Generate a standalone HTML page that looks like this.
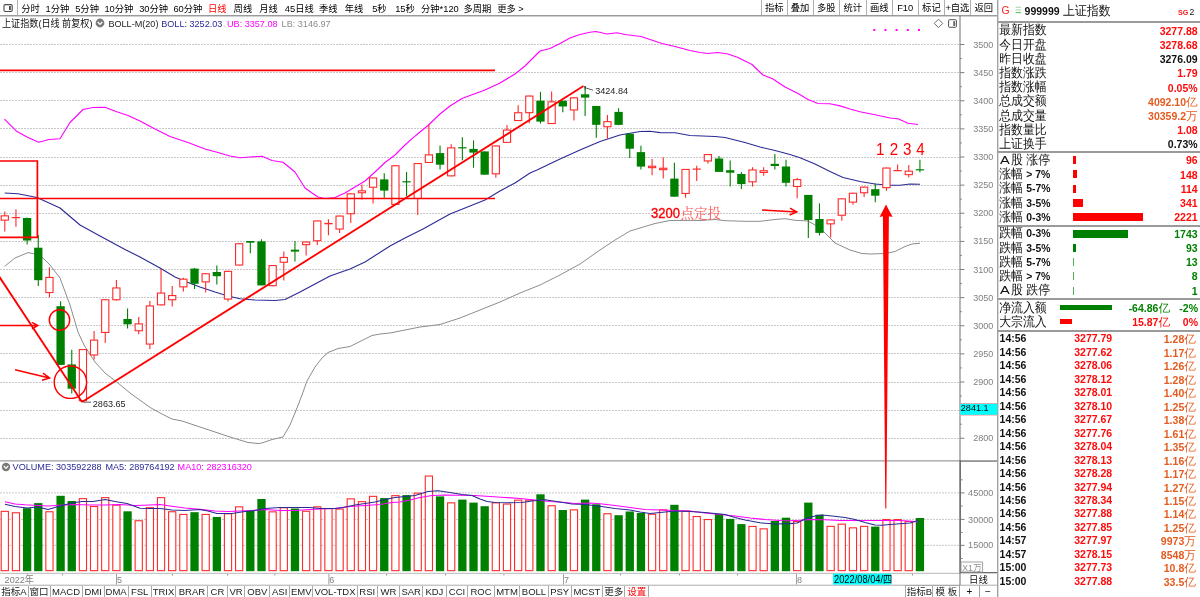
<!DOCTYPE html>
<html lang="zh-CN"><head><meta charset="utf-8"><title>上证指数 日线 BOLL</title>
<style>
html,body{margin:0;padding:0;background:#fff;}
body{width:1200px;height:597px;overflow:hidden;position:relative;font-family:"Liberation Sans","Noto Sans CJK SC",sans-serif;color:#000;}
.ar{font-family:"Liberation Sans","Noto Sans CJK SC",sans-serif;}
.ss{font-family:"Liberation Serif","Noto Serif CJK SC",serif;}
#app{position:absolute;left:0;top:0;width:1200px;height:597px;overflow:hidden;will-change:transform;}
.abs{position:absolute;white-space:nowrap;}
/* toolbar */
#tb{position:absolute;left:0;top:0;width:997px;height:15.2px;}
#tb span{position:absolute;top:3.4px;font-size:9.3px;line-height:12px;white-space:nowrap;color:#000;}
#tb i{position:absolute;top:0;width:1px;height:15px;background:#b0b0b0;}
#tb b{position:absolute;top:2.4px;font-weight:normal;font-size:9.3px;line-height:12px;text-align:center;white-space:nowrap;color:#000;}
/* title rows */
.t9{font-size:9.1px;line-height:12px;transform:scaleY(1.08);transform-origin:0 50%;}
/* bottom tabs */
#tabs span{position:absolute;top:585.6px;height:11.4px;font-size:9.5px;line-height:11.6px;text-align:center;white-space:nowrap;color:#222;border-left:1px solid #a8a8a8;box-sizing:border-box;}
/* right panel */
#rp{position:absolute;left:997px;top:0;width:203px;height:597px;border-left:1.4px solid transparent;box-sizing:border-box;}
#rp .lab{position:absolute;left:1.2px;font-family:"Liberation Sans","WenQuanYi Zen Hei",sans-serif;font-size:11.9px;line-height:14px;color:#111;white-space:nowrap;transform:scaleY(1.1);transform-origin:0 50%;}
#rp .lab b{font-family:"Liberation Sans","Noto Sans CJK SC",sans-serif;font-size:10.4px;font-weight:bold;}
#rp .val{position:absolute;right:2.4px;font-size:10.5px;line-height:14px;font-weight:bold;white-space:nowrap;text-align:right;}
#rp .hr{position:absolute;left:0;width:203px;height:1.4px;background:#9a9a9a;}
#rp .bar{position:absolute;height:8px;}
.r{color:#ff0a0a;} .g{color:#008000;} .o{color:#e65a1e;} .k{color:#111;}
#rp .tk{position:absolute;left:0;width:201px;height:13.5px;font-size:10.5px;line-height:13.5px;font-weight:bold;}
#rp .tk span{position:absolute;top:0;white-space:nowrap;}
#rp .tk span em{font-style:normal;}
.cj{font-family:"Liberation Sans","WenQuanYi Zen Hei",sans-serif;font-weight:normal;font-size:11.6px;}
#rp .fa{display:inline-block;width:11.9px;text-align:center;font-style:normal;font-size:10.6px;transform:scaleX(1.38);}
.wq{font-family:"Liberation Sans","WenQuanYi Zen Hei",sans-serif;}
</style></head><body><div id="app">
<svg width="1000" height="597" viewBox="0 0 1000 597" style="position:absolute;left:0;top:0">
<line x1="0" y1="438.5" x2="959" y2="438.5" stroke="#c8c8c8" stroke-width="1" stroke-dasharray="2 1"/>
<line x1="0" y1="410.5" x2="959" y2="410.5" stroke="#c8c8c8" stroke-width="1" stroke-dasharray="2 1"/>
<line x1="0" y1="382.5" x2="959" y2="382.5" stroke="#c8c8c8" stroke-width="1" stroke-dasharray="2 1"/>
<line x1="0" y1="353.5" x2="959" y2="353.5" stroke="#c8c8c8" stroke-width="1" stroke-dasharray="2 1"/>
<line x1="0" y1="325.5" x2="959" y2="325.5" stroke="#c8c8c8" stroke-width="1" stroke-dasharray="2 1"/>
<line x1="0" y1="297.5" x2="959" y2="297.5" stroke="#c8c8c8" stroke-width="1" stroke-dasharray="2 1"/>
<line x1="0" y1="269.5" x2="959" y2="269.5" stroke="#c8c8c8" stroke-width="1" stroke-dasharray="2 1"/>
<line x1="0" y1="241.5" x2="959" y2="241.5" stroke="#c8c8c8" stroke-width="1" stroke-dasharray="2 1"/>
<line x1="0" y1="213.5" x2="959" y2="213.5" stroke="#c8c8c8" stroke-width="1" stroke-dasharray="2 1"/>
<line x1="0" y1="185.5" x2="959" y2="185.5" stroke="#c8c8c8" stroke-width="1" stroke-dasharray="2 1"/>
<line x1="0" y1="157.5" x2="959" y2="157.5" stroke="#c8c8c8" stroke-width="1" stroke-dasharray="2 1"/>
<line x1="0" y1="128.5" x2="959" y2="128.5" stroke="#c8c8c8" stroke-width="1" stroke-dasharray="2 1"/>
<line x1="0" y1="100.5" x2="959" y2="100.5" stroke="#c8c8c8" stroke-width="1" stroke-dasharray="2 1"/>
<line x1="0" y1="72.5" x2="959" y2="72.5" stroke="#c8c8c8" stroke-width="1" stroke-dasharray="2 1"/>
<line x1="0" y1="44.5" x2="959" y2="44.5" stroke="#c8c8c8" stroke-width="1" stroke-dasharray="2 1"/>
<line x1="0" y1="492.9" x2="959" y2="492.9" stroke="#c8c8c8" stroke-width="1" stroke-dasharray="2 1"/>
<line x1="0" y1="519.4" x2="959" y2="519.4" stroke="#c8c8c8" stroke-width="1" stroke-dasharray="2 1"/>
<line x1="0" y1="545.35" x2="959" y2="545.35" stroke="#c8c8c8" stroke-width="1" stroke-dasharray="2 1"/>
<rect x="0" y="15" width="997" height="1.45" fill="#9a9a9a"/>
<rect x="997" y="0" width="1.4" height="597" fill="#a2a2a2"/>
<rect x="0" y="460" width="960" height="1.6" fill="#b4b4b4"/>
<rect x="0" y="572.8" width="960" height="1.2" fill="#c4c4c4"/>
<rect x="0" y="584.7" width="997" height="1" fill="#ababab"/>
<polyline fill="none" stroke="#8c8c8c" stroke-width="1" stroke-linejoin="round" points="4.7,266.3 15,258 28,252.6 40,255 50,265 60,278 70,305 78,332 84,345 95,362 105,373 118,383 130,393 150,407.4 160,413 172,419 182,421 200,427 215,432 230,437 248,442.5 258,443.5 262,443 272,439.5 283,437 290,425 297,408 302,395 307,381 315,367 322,358 328,352.5 338,348.5 350,346.5 360,341.5 372,335.5 380,334 390,333 400,331 420,327 440,324.5 460,318 480,310 500,302 520,293 540,285 560,275 580,264 600,250 615,240 630,231 640,228 655,223.5 670,220.5 690,220.4 700,220.5 715,219.5 725,220.7 745,221.3 760,221.3 775,219.5 785,218.7 795,220.3 808,221 815,225 822,230 835,243 850,250 862,253.5 870,254 885,253.5 895,251.5 905,246.5 912,244 920,243.2" />
<polyline fill="none" stroke="#2a2a96" stroke-width="1.1" stroke-linejoin="round" points="4.7,193 18,193.7 37,197.5 60,208 80,225 100,236 125,249.5 140,257 160,268 175,277 190,283.2 200,287 215,292 228,296 240,298.8 255,300 275,300.5 285,299.5 300,292 315,284 330,276 350,269 365,262 390,246 405,238 423,229 450,214 470,206 485,200 500,191 515,183 530,173 537,170 560,159 580,150 600,141.5 620,135 640,131.5 650,131.3 660,132.6 675,132.8 690,135.5 715,136.5 725,137.5 745,142.5 760,147 775,150.5 790,154.5 800,157.7 815,164 830,171.5 843,177.5 860,181.5 875,184 890,185.2 900,185.2 910,184 920,184.2" />
<polyline fill="none" stroke="#ff00ff" stroke-width="1.1" stroke-linejoin="round" points="4.4,119.1 16.5,131.2 27,137 38.6,142.3 49,139.5 60,138.8 70,122.5 83,109.5 93,107.5 105,107.3 116,111.5 128,115.5 140,121 155,129 170,136.5 185,141.5 190,143.2 205,149 218,152.5 230,156 240,157.7 250,157 262,156.3 272,160.5 283,162.3 295,172 305,188 312,193 318,197 325,198.5 335,197.5 345,193 355,187 365,181 375,172 385,162.5 395,155 405,145 412,138.6 420,132 428,125.5 440,114 450,106 462,98.5 470,95.5 485,90 500,83 515,74 525,66 540,51 550,48.5 560,43.5 570,38 580,34.5 590,32.3 596,31.5 607,34 617,32.7 625,34.5 641,36.5 650,39.5 662,43.5 675,46.5 690,50.5 700,52.5 708,53.5 718,52.5 728,54 738,57.5 752,64.5 763,75 773,79 785,87 798,93.5 808,99.5 818,103.5 830,103.7 840,105.9 850,109 860,111.8 875,114.7 890,118 898,118.7 908,123.3 918,124.5" />
<line x1="4.8" y1="211.6" x2="4.8" y2="231.6" stroke="#ff2a2a" stroke-width="1.1"/>
<rect x="1.2" y="215.85" width="7.2" height="4.3" fill="#fff" stroke="#ff2a2a" stroke-width="1.1"/>
<line x1="15.96" y1="209.3" x2="15.96" y2="226.7" stroke="#ff2a2a" stroke-width="1.1"/>
<rect x="11.81" y="217" width="8.3" height="1.2" fill="#ff2a2a"/>
<line x1="27.12" y1="217.5" x2="27.12" y2="244.6" stroke="#008000" stroke-width="1.1"/>
<rect x="22.97" y="218" width="8.3" height="22.5" fill="#008000"/>
<line x1="38.28" y1="235" x2="38.28" y2="286.1" stroke="#008000" stroke-width="1.1"/>
<rect x="34.13" y="247.7" width="8.3" height="32.5" fill="#008000"/>
<line x1="49.44" y1="267.2" x2="49.44" y2="297.3" stroke="#ff2a2a" stroke-width="1.1"/>
<rect x="45.84" y="277.45" width="7.2" height="15.1" fill="#fff" stroke="#ff2a2a" stroke-width="1.1"/>
<line x1="60.6" y1="301.2" x2="60.6" y2="364.9" stroke="#008000" stroke-width="1.1"/>
<rect x="56.45" y="306.2" width="8.3" height="58.7" fill="#008000"/>
<line x1="71.76" y1="349.8" x2="71.76" y2="393.4" stroke="#008000" stroke-width="1.1"/>
<rect x="67.61" y="364.4" width="8.3" height="24.3" fill="#008000"/>
<line x1="82.92" y1="349" x2="82.92" y2="401.2" stroke="#ff2a2a" stroke-width="1.1"/>
<rect x="79.32" y="349.55" width="7.2" height="51.1" fill="#fff" stroke="#ff2a2a" stroke-width="1.1"/>
<line x1="94.08" y1="330.9" x2="94.08" y2="359.4" stroke="#ff2a2a" stroke-width="1.1"/>
<rect x="90.48" y="340.15" width="7.2" height="14.8" fill="#fff" stroke="#ff2a2a" stroke-width="1.1"/>
<line x1="105.24" y1="299.2" x2="105.24" y2="343" stroke="#ff2a2a" stroke-width="1.1"/>
<rect x="101.64" y="299.75" width="7.2" height="32.7" fill="#fff" stroke="#ff2a2a" stroke-width="1.1"/>
<line x1="116.4" y1="279.9" x2="116.4" y2="300.8" stroke="#ff2a2a" stroke-width="1.1"/>
<rect x="112.8" y="287.95" width="7.2" height="11.8" fill="#fff" stroke="#ff2a2a" stroke-width="1.1"/>
<line x1="127.56" y1="308.4" x2="127.56" y2="328.5" stroke="#008000" stroke-width="1.1"/>
<rect x="123.41" y="319" width="8.3" height="5.3" fill="#008000"/>
<line x1="138.72" y1="317" x2="138.72" y2="334.2" stroke="#ff2a2a" stroke-width="1.1"/>
<rect x="135.12" y="323.85" width="7.2" height="6.9" fill="#fff" stroke="#ff2a2a" stroke-width="1.1"/>
<line x1="149.88" y1="301" x2="149.88" y2="349.3" stroke="#ff2a2a" stroke-width="1.1"/>
<rect x="146.28" y="305.95" width="7.2" height="38.1" fill="#fff" stroke="#ff2a2a" stroke-width="1.1"/>
<line x1="161.04" y1="269" x2="161.04" y2="305.4" stroke="#ff2a2a" stroke-width="1.1"/>
<rect x="157.44" y="293.05" width="7.2" height="11.8" fill="#fff" stroke="#ff2a2a" stroke-width="1.1"/>
<line x1="172.2" y1="286" x2="172.2" y2="306.5" stroke="#ff2a2a" stroke-width="1.1"/>
<rect x="168.6" y="295.55" width="7.2" height="4.2" fill="#fff" stroke="#ff2a2a" stroke-width="1.1"/>
<line x1="183.36" y1="277.7" x2="183.36" y2="291.6" stroke="#ff2a2a" stroke-width="1.1"/>
<rect x="179.76" y="279.15" width="7.2" height="7.7" fill="#fff" stroke="#ff2a2a" stroke-width="1.1"/>
<line x1="194.52" y1="268" x2="194.52" y2="289" stroke="#008000" stroke-width="1.1"/>
<rect x="190.37" y="268.6" width="8.3" height="15.2" fill="#008000"/>
<line x1="205.68" y1="273.2" x2="205.68" y2="292.6" stroke="#ff2a2a" stroke-width="1.1"/>
<rect x="202.08" y="273.75" width="7.2" height="8.1" fill="#fff" stroke="#ff2a2a" stroke-width="1.1"/>
<line x1="216.84" y1="265.6" x2="216.84" y2="284.6" stroke="#008000" stroke-width="1.1"/>
<rect x="212.69" y="272" width="8.3" height="4.2" fill="#008000"/>
<line x1="228" y1="270.8" x2="228" y2="301.6" stroke="#ff2a2a" stroke-width="1.1"/>
<rect x="224.4" y="271.35" width="7.2" height="27.7" fill="#fff" stroke="#ff2a2a" stroke-width="1.1"/>
<line x1="239.16" y1="243.2" x2="239.16" y2="265.6" stroke="#ff2a2a" stroke-width="1.1"/>
<rect x="235.56" y="243.75" width="7.2" height="21.3" fill="#fff" stroke="#ff2a2a" stroke-width="1.1"/>
<line x1="250.32" y1="241" x2="250.32" y2="253.2" stroke="#008000" stroke-width="1.1"/>
<rect x="246.17" y="241" width="8.3" height="1.7" fill="#008000"/>
<line x1="261.48" y1="239.3" x2="261.48" y2="285.4" stroke="#008000" stroke-width="1.1"/>
<rect x="257.33" y="241.3" width="8.3" height="44.1" fill="#008000"/>
<line x1="272.64" y1="265" x2="272.64" y2="286.2" stroke="#ff2a2a" stroke-width="1.1"/>
<rect x="269.04" y="265.55" width="7.2" height="20.1" fill="#fff" stroke="#ff2a2a" stroke-width="1.1"/>
<line x1="283.8" y1="251.4" x2="283.8" y2="280.4" stroke="#ff2a2a" stroke-width="1.1"/>
<rect x="280.2" y="257.45" width="7.2" height="4.8" fill="#fff" stroke="#ff2a2a" stroke-width="1.1"/>
<line x1="294.96" y1="241" x2="294.96" y2="261.4" stroke="#008000" stroke-width="1.1"/>
<rect x="290.81" y="249.7" width="8.3" height="1.9" fill="#008000"/>
<line x1="306.12" y1="241.5" x2="306.12" y2="255.6" stroke="#ff2a2a" stroke-width="1.1"/>
<rect x="302.52" y="242.05" width="7.2" height="2.6" fill="#fff" stroke="#ff2a2a" stroke-width="1.1"/>
<line x1="317.28" y1="220.4" x2="317.28" y2="244.9" stroke="#ff2a2a" stroke-width="1.1"/>
<rect x="313.68" y="220.95" width="7.2" height="19.8" fill="#fff" stroke="#ff2a2a" stroke-width="1.1"/>
<line x1="328.44" y1="219.2" x2="328.44" y2="235.2" stroke="#ff2a2a" stroke-width="1.1"/>
<rect x="324.29" y="222.9" width="8.3" height="1.4" fill="#ff2a2a"/>
<line x1="339.6" y1="215.5" x2="339.6" y2="233" stroke="#ff2a2a" stroke-width="1.1"/>
<rect x="336" y="216.05" width="7.2" height="13" fill="#fff" stroke="#ff2a2a" stroke-width="1.1"/>
<line x1="350.76" y1="193.3" x2="350.76" y2="223" stroke="#ff2a2a" stroke-width="1.1"/>
<rect x="347.16" y="193.85" width="7.2" height="19.9" fill="#fff" stroke="#ff2a2a" stroke-width="1.1"/>
<line x1="361.92" y1="184.4" x2="361.92" y2="199.5" stroke="#ff2a2a" stroke-width="1.1"/>
<rect x="358.32" y="190.85" width="7.2" height="1.9" fill="#fff" stroke="#ff2a2a" stroke-width="1.1"/>
<line x1="373.08" y1="177.4" x2="373.08" y2="203.4" stroke="#ff2a2a" stroke-width="1.1"/>
<rect x="369.48" y="177.95" width="7.2" height="9.3" fill="#fff" stroke="#ff2a2a" stroke-width="1.1"/>
<line x1="384.24" y1="173.2" x2="384.24" y2="197.8" stroke="#008000" stroke-width="1.1"/>
<rect x="380.09" y="179.4" width="8.3" height="11.2" fill="#008000"/>
<line x1="395.4" y1="165.2" x2="395.4" y2="204.9" stroke="#ff2a2a" stroke-width="1.1"/>
<rect x="391.8" y="165.75" width="7.2" height="38.6" fill="#fff" stroke="#ff2a2a" stroke-width="1.1"/>
<line x1="406.56" y1="171.9" x2="406.56" y2="196.2" stroke="#008000" stroke-width="1.1"/>
<rect x="402.41" y="181.2" width="8.3" height="1.2" fill="#008000"/>
<line x1="417.72" y1="163" x2="417.72" y2="215.1" stroke="#ff2a2a" stroke-width="1.1"/>
<rect x="414.12" y="163.55" width="7.2" height="34.9" fill="#fff" stroke="#ff2a2a" stroke-width="1.1"/>
<line x1="428.88" y1="124.5" x2="428.88" y2="163" stroke="#ff2a2a" stroke-width="1.1"/>
<rect x="425.28" y="154.85" width="7.2" height="7.6" fill="#fff" stroke="#ff2a2a" stroke-width="1.1"/>
<line x1="440.04" y1="145.4" x2="440.04" y2="169.4" stroke="#008000" stroke-width="1.1"/>
<rect x="435.89" y="153.1" width="8.3" height="11.6" fill="#008000"/>
<line x1="451.2" y1="144.2" x2="451.2" y2="176.4" stroke="#ff2a2a" stroke-width="1.1"/>
<rect x="447.6" y="147.85" width="7.2" height="28" fill="#fff" stroke="#ff2a2a" stroke-width="1.1"/>
<line x1="462.36" y1="137.2" x2="462.36" y2="160.2" stroke="#008000" stroke-width="1.1"/>
<rect x="458.21" y="147.2" width="8.3" height="1.2" fill="#008000"/>
<line x1="473.52" y1="140.4" x2="473.52" y2="167.7" stroke="#008000" stroke-width="1.1"/>
<rect x="469.37" y="148.9" width="8.3" height="3.7" fill="#008000"/>
<line x1="484.68" y1="151.4" x2="484.68" y2="174.7" stroke="#008000" stroke-width="1.1"/>
<rect x="480.53" y="151.4" width="8.3" height="23.3" fill="#008000"/>
<line x1="495.84" y1="145.4" x2="495.84" y2="177.7" stroke="#ff2a2a" stroke-width="1.1"/>
<rect x="492.24" y="145.95" width="7.2" height="27.9" fill="#fff" stroke="#ff2a2a" stroke-width="1.1"/>
<line x1="507" y1="125" x2="507" y2="142.9" stroke="#ff2a2a" stroke-width="1.1"/>
<rect x="503.4" y="130.05" width="7.2" height="12.3" fill="#fff" stroke="#ff2a2a" stroke-width="1.1"/>
<line x1="518.16" y1="105.2" x2="518.16" y2="121.1" stroke="#ff2a2a" stroke-width="1.1"/>
<rect x="514.56" y="112.75" width="7.2" height="7.8" fill="#fff" stroke="#ff2a2a" stroke-width="1.1"/>
<line x1="529.32" y1="95.5" x2="529.32" y2="123.3" stroke="#ff2a2a" stroke-width="1.1"/>
<rect x="525.72" y="96.05" width="7.2" height="16.6" fill="#fff" stroke="#ff2a2a" stroke-width="1.1"/>
<line x1="540.48" y1="91.8" x2="540.48" y2="123.6" stroke="#008000" stroke-width="1.1"/>
<rect x="536.33" y="100.7" width="8.3" height="20.9" fill="#008000"/>
<line x1="551.64" y1="91.4" x2="551.64" y2="124.1" stroke="#ff2a2a" stroke-width="1.1"/>
<rect x="548.04" y="101.85" width="7.2" height="21.7" fill="#fff" stroke="#ff2a2a" stroke-width="1.1"/>
<line x1="562.8" y1="100.7" x2="562.8" y2="112.2" stroke="#008000" stroke-width="1.1"/>
<rect x="558.65" y="100.7" width="8.3" height="5.8" fill="#008000"/>
<line x1="573.96" y1="97.3" x2="573.96" y2="120.6" stroke="#ff2a2a" stroke-width="1.1"/>
<rect x="570.36" y="97.85" width="7.2" height="12.1" fill="#fff" stroke="#ff2a2a" stroke-width="1.1"/>
<line x1="585.12" y1="85.9" x2="585.12" y2="116.1" stroke="#008000" stroke-width="1.1"/>
<rect x="580.97" y="94.3" width="8.3" height="3.3" fill="#008000"/>
<line x1="596.28" y1="106" x2="596.28" y2="137.8" stroke="#008000" stroke-width="1.1"/>
<rect x="592.13" y="106" width="8.3" height="18.8" fill="#008000"/>
<line x1="607.44" y1="114.9" x2="607.44" y2="138.7" stroke="#ff2a2a" stroke-width="1.1"/>
<rect x="603.84" y="121.65" width="7.2" height="5.1" fill="#fff" stroke="#ff2a2a" stroke-width="1.1"/>
<line x1="618.6" y1="108.2" x2="618.6" y2="125.3" stroke="#008000" stroke-width="1.1"/>
<rect x="614.45" y="111.9" width="8.3" height="13" fill="#008000"/>
<line x1="629.76" y1="133.7" x2="629.76" y2="157.9" stroke="#008000" stroke-width="1.1"/>
<rect x="625.61" y="133.7" width="8.3" height="15" fill="#008000"/>
<line x1="640.92" y1="145.7" x2="640.92" y2="169.4" stroke="#008000" stroke-width="1.1"/>
<rect x="636.77" y="152.1" width="8.3" height="14.5" fill="#008000"/>
<line x1="652.08" y1="159" x2="652.08" y2="175.2" stroke="#ff2a2a" stroke-width="1.1"/>
<rect x="648.48" y="166.25" width="7.2" height="1.4" fill="#fff" stroke="#ff2a2a" stroke-width="1.1"/>
<line x1="663.24" y1="157.3" x2="663.24" y2="178.6" stroke="#ff2a2a" stroke-width="1.1"/>
<rect x="659.64" y="168.25" width="7.2" height="1.4" fill="#fff" stroke="#ff2a2a" stroke-width="1.1"/>
<line x1="674.4" y1="162.7" x2="674.4" y2="196.7" stroke="#008000" stroke-width="1.1"/>
<rect x="670.25" y="178.6" width="8.3" height="18.1" fill="#008000"/>
<line x1="685.56" y1="168.9" x2="685.56" y2="197.8" stroke="#ff2a2a" stroke-width="1.1"/>
<rect x="681.96" y="169.45" width="7.2" height="24" fill="#fff" stroke="#ff2a2a" stroke-width="1.1"/>
<line x1="696.72" y1="165.7" x2="696.72" y2="181.1" stroke="#ff2a2a" stroke-width="1.1"/>
<rect x="692.57" y="168.5" width="8.3" height="1.2" fill="#ff2a2a"/>
<line x1="707.88" y1="154" x2="707.88" y2="163.5" stroke="#ff2a2a" stroke-width="1.1"/>
<rect x="704.28" y="154.55" width="7.2" height="6.4" fill="#fff" stroke="#ff2a2a" stroke-width="1.1"/>
<line x1="719.04" y1="156" x2="719.04" y2="171.9" stroke="#008000" stroke-width="1.1"/>
<rect x="714.89" y="158.5" width="8.3" height="13.4" fill="#008000"/>
<line x1="730.2" y1="160.5" x2="730.2" y2="186.6" stroke="#008000" stroke-width="1.1"/>
<rect x="726.05" y="170.2" width="8.3" height="2.5" fill="#008000"/>
<line x1="741.36" y1="171.9" x2="741.36" y2="189" stroke="#008000" stroke-width="1.1"/>
<rect x="737.21" y="174" width="8.3" height="10.1" fill="#008000"/>
<line x1="752.52" y1="167.2" x2="752.52" y2="186.6" stroke="#ff2a2a" stroke-width="1.1"/>
<rect x="748.92" y="169.95" width="7.2" height="11.9" fill="#fff" stroke="#ff2a2a" stroke-width="1.1"/>
<line x1="763.68" y1="167.2" x2="763.68" y2="175.7" stroke="#ff2a2a" stroke-width="1.1"/>
<rect x="760.08" y="170.75" width="7.2" height="1.7" fill="#fff" stroke="#ff2a2a" stroke-width="1.1"/>
<line x1="774.84" y1="154" x2="774.84" y2="169.4" stroke="#008000" stroke-width="1.1"/>
<rect x="770.69" y="163.8" width="8.3" height="2.2" fill="#008000"/>
<line x1="786" y1="159.8" x2="786" y2="186.6" stroke="#008000" stroke-width="1.1"/>
<rect x="781.85" y="166.5" width="8.3" height="16.3" fill="#008000"/>
<line x1="797.16" y1="177.7" x2="797.16" y2="198.3" stroke="#ff2a2a" stroke-width="1.1"/>
<rect x="793.56" y="179.65" width="7.2" height="6.8" fill="#fff" stroke="#ff2a2a" stroke-width="1.1"/>
<line x1="808.32" y1="194.9" x2="808.32" y2="237.9" stroke="#008000" stroke-width="1.1"/>
<rect x="804.17" y="194.9" width="8.3" height="25.1" fill="#008000"/>
<line x1="819.48" y1="203.3" x2="819.48" y2="235.5" stroke="#008000" stroke-width="1.1"/>
<rect x="815.33" y="219" width="8.3" height="13.9" fill="#008000"/>
<line x1="830.64" y1="219.4" x2="830.64" y2="237.5" stroke="#ff2a2a" stroke-width="1.1"/>
<rect x="827.04" y="219.95" width="7.2" height="3.9" fill="#fff" stroke="#ff2a2a" stroke-width="1.1"/>
<line x1="841.8" y1="198.3" x2="841.8" y2="220.8" stroke="#ff2a2a" stroke-width="1.1"/>
<rect x="838.2" y="198.85" width="7.2" height="16.4" fill="#fff" stroke="#ff2a2a" stroke-width="1.1"/>
<line x1="852.96" y1="192.7" x2="852.96" y2="204.7" stroke="#ff2a2a" stroke-width="1.1"/>
<rect x="849.36" y="193.25" width="7.2" height="8.9" fill="#fff" stroke="#ff2a2a" stroke-width="1.1"/>
<line x1="864.12" y1="186.6" x2="864.12" y2="196.9" stroke="#ff2a2a" stroke-width="1.1"/>
<rect x="860.52" y="187.15" width="7.2" height="5.6" fill="#fff" stroke="#ff2a2a" stroke-width="1.1"/>
<line x1="875.28" y1="183.2" x2="875.28" y2="202.3" stroke="#008000" stroke-width="1.1"/>
<rect x="871.13" y="189.2" width="8.3" height="6.5" fill="#008000"/>
<line x1="886.44" y1="167.5" x2="886.44" y2="190.7" stroke="#ff2a2a" stroke-width="1.1"/>
<rect x="882.84" y="168.05" width="7.2" height="19.6" fill="#fff" stroke="#ff2a2a" stroke-width="1.1"/>
<line x1="897.6" y1="164.5" x2="897.6" y2="171.2" stroke="#ff2a2a" stroke-width="1.1"/>
<rect x="893.45" y="170" width="8.3" height="1.2" fill="#ff2a2a"/>
<line x1="908.76" y1="165.1" x2="908.76" y2="177.6" stroke="#ff2a2a" stroke-width="1.1"/>
<rect x="905.16" y="171.15" width="7.2" height="3.5" fill="#fff" stroke="#ff2a2a" stroke-width="1.1"/>
<line x1="919.92" y1="159.7" x2="919.92" y2="172.2" stroke="#008000" stroke-width="1.1"/>
<rect x="915.77" y="169.2" width="8.3" height="1.2" fill="#008000"/>
<rect x="1.2" y="511.35" width="7.2" height="59.3" fill="#fff" stroke="#ff2a2a" stroke-width="1.1"/>
<rect x="12.36" y="512.75" width="7.2" height="57.9" fill="#fff" stroke="#ff2a2a" stroke-width="1.1"/>
<rect x="22.97" y="508.2" width="8.3" height="63" fill="#008000"/>
<rect x="34.13" y="503.1" width="8.3" height="68.1" fill="#008000"/>
<rect x="45.84" y="511.75" width="7.2" height="58.9" fill="#fff" stroke="#ff2a2a" stroke-width="1.1"/>
<rect x="56.45" y="495.8" width="8.3" height="75.4" fill="#008000"/>
<rect x="67.61" y="501" width="8.3" height="70.2" fill="#008000"/>
<rect x="79.32" y="498.65" width="7.2" height="72" fill="#fff" stroke="#ff2a2a" stroke-width="1.1"/>
<rect x="90.48" y="506.55" width="7.2" height="64.1" fill="#fff" stroke="#ff2a2a" stroke-width="1.1"/>
<rect x="101.64" y="497.65" width="7.2" height="73" fill="#fff" stroke="#ff2a2a" stroke-width="1.1"/>
<rect x="112.8" y="505.15" width="7.2" height="65.5" fill="#fff" stroke="#ff2a2a" stroke-width="1.1"/>
<rect x="123.41" y="511.3" width="8.3" height="59.9" fill="#008000"/>
<rect x="135.12" y="520.75" width="7.2" height="49.9" fill="#fff" stroke="#ff2a2a" stroke-width="1.1"/>
<rect x="146.28" y="507.75" width="7.2" height="62.9" fill="#fff" stroke="#ff2a2a" stroke-width="1.1"/>
<rect x="157.44" y="497.65" width="7.2" height="73" fill="#fff" stroke="#ff2a2a" stroke-width="1.1"/>
<rect x="168.6" y="511.75" width="7.2" height="58.9" fill="#fff" stroke="#ff2a2a" stroke-width="1.1"/>
<rect x="179.76" y="514.45" width="7.2" height="56.2" fill="#fff" stroke="#ff2a2a" stroke-width="1.1"/>
<rect x="190.37" y="512.2" width="8.3" height="59" fill="#008000"/>
<rect x="202.08" y="514.45" width="7.2" height="56.2" fill="#fff" stroke="#ff2a2a" stroke-width="1.1"/>
<rect x="212.69" y="516.9" width="8.3" height="54.3" fill="#008000"/>
<rect x="224.4" y="513.75" width="7.2" height="56.9" fill="#fff" stroke="#ff2a2a" stroke-width="1.1"/>
<rect x="235.56" y="506.85" width="7.2" height="63.8" fill="#fff" stroke="#ff2a2a" stroke-width="1.1"/>
<rect x="246.17" y="510.5" width="8.3" height="60.7" fill="#008000"/>
<rect x="257.33" y="499" width="8.3" height="72.2" fill="#008000"/>
<rect x="269.04" y="511.85" width="7.2" height="58.8" fill="#fff" stroke="#ff2a2a" stroke-width="1.1"/>
<rect x="280.2" y="507.75" width="7.2" height="62.9" fill="#fff" stroke="#ff2a2a" stroke-width="1.1"/>
<rect x="290.81" y="508.5" width="8.3" height="62.7" fill="#008000"/>
<rect x="302.52" y="511.25" width="7.2" height="59.4" fill="#fff" stroke="#ff2a2a" stroke-width="1.1"/>
<rect x="313.68" y="506.85" width="7.2" height="63.8" fill="#fff" stroke="#ff2a2a" stroke-width="1.1"/>
<rect x="324.84" y="508.55" width="7.2" height="62.1" fill="#fff" stroke="#ff2a2a" stroke-width="1.1"/>
<rect x="336" y="509.05" width="7.2" height="61.6" fill="#fff" stroke="#ff2a2a" stroke-width="1.1"/>
<rect x="347.16" y="498.85" width="7.2" height="71.8" fill="#fff" stroke="#ff2a2a" stroke-width="1.1"/>
<rect x="358.32" y="501.65" width="7.2" height="69" fill="#fff" stroke="#ff2a2a" stroke-width="1.1"/>
<rect x="369.48" y="496.35" width="7.2" height="74.3" fill="#fff" stroke="#ff2a2a" stroke-width="1.1"/>
<rect x="380.09" y="498.1" width="8.3" height="73.1" fill="#008000"/>
<rect x="391.8" y="495.65" width="7.2" height="75" fill="#fff" stroke="#ff2a2a" stroke-width="1.1"/>
<rect x="402.41" y="495.1" width="8.3" height="76.1" fill="#008000"/>
<rect x="414.12" y="493.15" width="7.2" height="77.5" fill="#fff" stroke="#ff2a2a" stroke-width="1.1"/>
<rect x="425.28" y="476.05" width="7.2" height="94.6" fill="#fff" stroke="#ff2a2a" stroke-width="1.1"/>
<rect x="435.89" y="496.4" width="8.3" height="74.8" fill="#008000"/>
<rect x="447.6" y="502.85" width="7.2" height="67.8" fill="#fff" stroke="#ff2a2a" stroke-width="1.1"/>
<rect x="458.21" y="499.6" width="8.3" height="71.6" fill="#008000"/>
<rect x="469.37" y="502.6" width="8.3" height="68.6" fill="#008000"/>
<rect x="480.53" y="506.2" width="8.3" height="65" fill="#008000"/>
<rect x="492.24" y="502.85" width="7.2" height="67.8" fill="#fff" stroke="#ff2a2a" stroke-width="1.1"/>
<rect x="503.4" y="504.05" width="7.2" height="66.6" fill="#fff" stroke="#ff2a2a" stroke-width="1.1"/>
<rect x="514.56" y="500.15" width="7.2" height="70.5" fill="#fff" stroke="#ff2a2a" stroke-width="1.1"/>
<rect x="525.72" y="500.15" width="7.2" height="70.5" fill="#fff" stroke="#ff2a2a" stroke-width="1.1"/>
<rect x="536.33" y="494.3" width="8.3" height="76.9" fill="#008000"/>
<rect x="548.04" y="505.75" width="7.2" height="64.9" fill="#fff" stroke="#ff2a2a" stroke-width="1.1"/>
<rect x="558.65" y="510" width="8.3" height="61.2" fill="#008000"/>
<rect x="570.36" y="509.85" width="7.2" height="60.8" fill="#fff" stroke="#ff2a2a" stroke-width="1.1"/>
<rect x="580.97" y="499.6" width="8.3" height="71.6" fill="#008000"/>
<rect x="592.13" y="504.3" width="8.3" height="66.9" fill="#008000"/>
<rect x="603.84" y="513.75" width="7.2" height="56.9" fill="#fff" stroke="#ff2a2a" stroke-width="1.1"/>
<rect x="614.45" y="515.2" width="8.3" height="56" fill="#008000"/>
<rect x="625.61" y="511.5" width="8.3" height="59.7" fill="#008000"/>
<rect x="636.77" y="513" width="8.3" height="58.2" fill="#008000"/>
<rect x="648.48" y="514.25" width="7.2" height="56.4" fill="#fff" stroke="#ff2a2a" stroke-width="1.1"/>
<rect x="659.64" y="509.85" width="7.2" height="60.8" fill="#fff" stroke="#ff2a2a" stroke-width="1.1"/>
<rect x="670.25" y="504.8" width="8.3" height="66.4" fill="#008000"/>
<rect x="681.96" y="511.05" width="7.2" height="59.6" fill="#fff" stroke="#ff2a2a" stroke-width="1.1"/>
<rect x="693.12" y="516.55" width="7.2" height="54.1" fill="#fff" stroke="#ff2a2a" stroke-width="1.1"/>
<rect x="704.28" y="519.55" width="7.2" height="51.1" fill="#fff" stroke="#ff2a2a" stroke-width="1.1"/>
<rect x="714.89" y="513.9" width="8.3" height="57.3" fill="#008000"/>
<rect x="726.05" y="518.9" width="8.3" height="52.3" fill="#008000"/>
<rect x="737.21" y="524.1" width="8.3" height="47.1" fill="#008000"/>
<rect x="748.92" y="526.45" width="7.2" height="44.2" fill="#fff" stroke="#ff2a2a" stroke-width="1.1"/>
<rect x="760.08" y="528.85" width="7.2" height="41.8" fill="#fff" stroke="#ff2a2a" stroke-width="1.1"/>
<rect x="770.69" y="521" width="8.3" height="50.2" fill="#008000"/>
<rect x="781.85" y="517.7" width="8.3" height="53.5" fill="#008000"/>
<rect x="793.56" y="521.55" width="7.2" height="49.1" fill="#fff" stroke="#ff2a2a" stroke-width="1.1"/>
<rect x="804.17" y="502.6" width="8.3" height="68.6" fill="#008000"/>
<rect x="815.33" y="514.7" width="8.3" height="56.5" fill="#008000"/>
<rect x="827.04" y="526.35" width="7.2" height="44.3" fill="#fff" stroke="#ff2a2a" stroke-width="1.1"/>
<rect x="838.2" y="524.15" width="7.2" height="46.5" fill="#fff" stroke="#ff2a2a" stroke-width="1.1"/>
<rect x="849.36" y="527.85" width="7.2" height="42.8" fill="#fff" stroke="#ff2a2a" stroke-width="1.1"/>
<rect x="860.52" y="526.35" width="7.2" height="44.3" fill="#fff" stroke="#ff2a2a" stroke-width="1.1"/>
<rect x="871.13" y="526.6" width="8.3" height="44.6" fill="#008000"/>
<rect x="882.84" y="519.55" width="7.2" height="51.1" fill="#fff" stroke="#ff2a2a" stroke-width="1.1"/>
<rect x="894" y="519.55" width="7.2" height="51.1" fill="#fff" stroke="#ff2a2a" stroke-width="1.1"/>
<rect x="905.16" y="521.55" width="7.2" height="49.1" fill="#fff" stroke="#ff2a2a" stroke-width="1.1"/>
<rect x="915.77" y="518" width="8.3" height="53.2" fill="#008000"/>
<polyline fill="none" stroke="#ff00ff" stroke-width="1.15" stroke-linejoin="round" points="5,501.8 15,504 25,504.8 38,505.5 48,506 60,505.3 75,504.5 90,505 105,505 120,504.5 135,505.5 150,505 160,504.5 170,506 185,508 200,509.4 215,511 228,511.5 240,511 252,510.5 265,509.5 280,510.5 295,510.5 310,509.5 320,509 335,508.5 350,506.5 365,505.5 380,504.5 392,502.5 400,502 410,500 420,497.5 432,495.5 445,495 460,495.2 475,495.5 490,496.5 505,497.5 520,498.5 535,500 550,501.5 565,502.5 575,503.5 590,503 600,503.7 615,505.5 630,507.5 645,509.5 660,510 675,510.5 690,511 705,513 720,514.5 735,516 750,518 765,519.5 780,520.5 790,520.7 800,520.3 810,519.5 825,519.7 840,520.5 855,520.5 870,520.5 885,520.5 900,520.5 912,521.3 918,522" />
<polyline fill="none" stroke="#2a2a96" stroke-width="1.1" stroke-linejoin="round" points="5,504.3 15,506.5 27,508 38,507 48,509.5 60,506 72,503 82,501.5 93,501.5 105,499.5 115,501.5 127,503.5 140,508.3 150,508.5 160,508.5 172,510 185,510.5 200,509.5 208,511 217,513.5 232,513.5 245,511.5 255,510.5 265,508.5 280,507.5 295,507.5 310,507.5 320,508.5 335,508.5 343,507.5 355,505 365,503.5 375,502 385,499.5 395,497.5 400,497 415,495.5 428,491.5 438,490.7 450,492.5 462,494.5 472,495.5 480,499 487,501.5 495,502.5 510,502.7 522,502.5 532,501 545,499.8 560,502 572,504 585,504.5 600,506.2 615,508.5 630,510 640,512 650,513.5 660,512.5 675,511 690,511.5 705,512.5 715,513.5 725,514.5 735,517.5 745,520 760,522.8 775,524 790,523.6 797,523 805,519 815,516 822,515 832,516 845,517.5 855,519.5 865,522.5 875,525 882,525.2 890,524.5 900,523.8 910,523 918,520.5" />
<line x1="0" y1="70.3" x2="495" y2="70.3" stroke="#ff0000" stroke-width="1.7"/>
<line x1="0" y1="198.5" x2="495" y2="198.5" stroke="#ff0000" stroke-width="1.7"/>
<polyline fill="none" stroke="#ff0000" stroke-width="1.7" points="-2,161 37.4,161 37.4,237.4 -2,237.4"/>
<line x1="-3" y1="273.2" x2="82" y2="402" stroke="#ff0000" stroke-width="1.8"/>
<line x1="82" y1="402" x2="583.5" y2="86" stroke="#ff0000" stroke-width="1.8"/>
<circle cx="59.5" cy="320" r="10.2" fill="none" stroke="#ff0000" stroke-width="1.4"/>
<circle cx="70.4" cy="382.2" r="16.2" fill="none" stroke="#ff0000" stroke-width="1.4"/>
<path d="M0,325.5 L37.5,325.5 M32,322.3 L37.8,325.5 L32,328.8" fill="none" stroke="#ff0000" stroke-width="1.5"/>
<path d="M15,369.7 L49.4,378 M43,373.2 L49.6,378 L42,380.2" fill="none" stroke="#ff0000" stroke-width="1.5"/>
<path d="M762,210 L796.6,212 M790,208.2 L796.8,212 L789.6,215" fill="none" stroke="#ff0000" stroke-width="1.5"/>
<path d="M886,204.5 L892.6,217 L888.9,216.2 L886.3,508.5 L885.3,508.5 L882.9,216.2 L879.6,217 Z" fill="#ff0000"/>
<rect x="873.3" y="29" width="2" height="2" fill="#ff00ff"/>
<rect x="884.46" y="29" width="2" height="2" fill="#ff00ff"/>
<rect x="895.62" y="29" width="2" height="2" fill="#ff00ff"/>
<rect x="906.78" y="29" width="2" height="2" fill="#ff00ff"/>
<rect x="917.94" y="29" width="2" height="2" fill="#ff00ff"/>
<path d="M938.5,19.2 L942.7,23.4 L938.5,27.6 L934.3,23.4 Z" fill="#fff" stroke="#606060" stroke-width="0.9"/>
<rect x="948.6" y="19.7" width="7.8" height="7.6" rx="1" fill="#fff" stroke="#505050" stroke-width="1"/>
<rect x="953.3" y="21.2" width="1.8" height="4.8" fill="#606060"/>
<path d="M584,86.5 L586.5,88.2 L593,90.2 M585.2,86.2 L585.2,89.6" fill="none" stroke="#333" stroke-width="0.8"/>
<text transform="translate(595.2 94.2) scale(0.93 1)" font-size="9.78" fill="#222" class="ar">3424.84</text>
<path d="M83.5,402.2 L91,402.2" fill="none" stroke="#333" stroke-width="0.8"/>
<text transform="translate(92.8 406.6) scale(0.93 1)" font-size="9.78" fill="#222" class="ar">2863.65</text>
<text transform="translate(880.3 154.8) scale(0.93 1)" font-size="16.34" fill="#ff0000" text-anchor="middle" class="ar">1</text>
<text transform="translate(894 154.8) scale(0.93 1)" font-size="16.34" fill="#ff0000" text-anchor="middle" class="ar">2</text>
<text transform="translate(907.2 154.8) scale(0.93 1)" font-size="16.34" fill="#ff0000" text-anchor="middle" class="ar">3</text>
<text transform="translate(920.6 154.8) scale(0.93 1)" font-size="16.34" fill="#ff0000" text-anchor="middle" class="ar">4</text>
<text transform="translate(651 217.9) scale(0.93 1)" font-size="13.97" fill="#ff0000" class="ar" stroke="#ff0000" stroke-width="0.35">3200</text>
<text x="680.6" y="218.2" font-size="13.5" fill="#ff5a5a" class="ss">点定投</text>
<rect x="959.5" y="16" width="1" height="569" fill="#707070"/>
<rect x="960" y="437.75" width="4.4" height="1" fill="#808080"/>
<text transform="translate(993.4 441.35) scale(0.93 1)" font-size="9.78" fill="#808080" text-anchor="end" class="ar">2800</text>
<rect x="960" y="423.69" width="1.8" height="1" fill="#808080"/>
<rect x="960" y="409.62" width="4.4" height="1" fill="#808080"/>
<rect x="960" y="395.56" width="1.8" height="1" fill="#808080"/>
<rect x="960" y="381.5" width="4.4" height="1" fill="#808080"/>
<text transform="translate(993.4 385.1) scale(0.93 1)" font-size="9.78" fill="#808080" text-anchor="end" class="ar">2900</text>
<rect x="960" y="367.44" width="1.8" height="1" fill="#808080"/>
<rect x="960" y="353.38" width="4.4" height="1" fill="#808080"/>
<text transform="translate(993.4 356.98) scale(0.93 1)" font-size="9.78" fill="#808080" text-anchor="end" class="ar">2950</text>
<rect x="960" y="339.31" width="1.8" height="1" fill="#808080"/>
<rect x="960" y="325.25" width="4.4" height="1" fill="#808080"/>
<text transform="translate(993.4 328.85) scale(0.93 1)" font-size="9.78" fill="#808080" text-anchor="end" class="ar">3000</text>
<rect x="960" y="311.19" width="1.8" height="1" fill="#808080"/>
<rect x="960" y="297.12" width="4.4" height="1" fill="#808080"/>
<text transform="translate(993.4 300.73) scale(0.93 1)" font-size="9.78" fill="#808080" text-anchor="end" class="ar">3050</text>
<rect x="960" y="283.06" width="1.8" height="1" fill="#808080"/>
<rect x="960" y="269" width="4.4" height="1" fill="#808080"/>
<text transform="translate(993.4 272.6) scale(0.93 1)" font-size="9.78" fill="#808080" text-anchor="end" class="ar">3100</text>
<rect x="960" y="254.94" width="1.8" height="1" fill="#808080"/>
<rect x="960" y="240.88" width="4.4" height="1" fill="#808080"/>
<text transform="translate(993.4 244.47) scale(0.93 1)" font-size="9.78" fill="#808080" text-anchor="end" class="ar">3150</text>
<rect x="960" y="226.81" width="1.8" height="1" fill="#808080"/>
<rect x="960" y="212.75" width="4.4" height="1" fill="#808080"/>
<text transform="translate(993.4 216.35) scale(0.93 1)" font-size="9.78" fill="#808080" text-anchor="end" class="ar">3200</text>
<rect x="960" y="198.69" width="1.8" height="1" fill="#808080"/>
<rect x="960" y="184.62" width="4.4" height="1" fill="#808080"/>
<text transform="translate(993.4 188.22) scale(0.93 1)" font-size="9.78" fill="#808080" text-anchor="end" class="ar">3250</text>
<rect x="960" y="170.56" width="1.8" height="1" fill="#808080"/>
<rect x="960" y="156.5" width="4.4" height="1" fill="#808080"/>
<text transform="translate(993.4 160.1) scale(0.93 1)" font-size="9.78" fill="#808080" text-anchor="end" class="ar">3300</text>
<rect x="960" y="142.44" width="1.8" height="1" fill="#808080"/>
<rect x="960" y="128.38" width="4.4" height="1" fill="#808080"/>
<text transform="translate(993.4 131.97) scale(0.93 1)" font-size="9.78" fill="#808080" text-anchor="end" class="ar">3350</text>
<rect x="960" y="114.31" width="1.8" height="1" fill="#808080"/>
<rect x="960" y="100.25" width="4.4" height="1" fill="#808080"/>
<text transform="translate(993.4 103.85) scale(0.93 1)" font-size="9.78" fill="#808080" text-anchor="end" class="ar">3400</text>
<rect x="960" y="86.19" width="1.8" height="1" fill="#808080"/>
<rect x="960" y="72.12" width="4.4" height="1" fill="#808080"/>
<text transform="translate(993.4 75.72) scale(0.93 1)" font-size="9.78" fill="#808080" text-anchor="end" class="ar">3450</text>
<rect x="960" y="58.06" width="1.8" height="1" fill="#808080"/>
<rect x="960" y="44" width="4.4" height="1" fill="#808080"/>
<text transform="translate(993.4 47.6) scale(0.93 1)" font-size="9.78" fill="#808080" text-anchor="end" class="ar">3500</text>
<rect x="960.4" y="403.4" width="37" height="11.6" fill="#00ffff"/>
<rect x="960.4" y="403" width="37" height="0.7" fill="#ff9090"/>
<rect x="960.4" y="414.8" width="37" height="0.7" fill="#ff9090"/>
<text transform="translate(960.8 411.4) scale(0.93 1)" font-size="9.78" fill="#000" class="ar">2841.1</text>
<rect x="960" y="460.4" width="37" height="1.3" fill="#6a6a6a"/>
<rect x="960" y="572" width="37" height="1.3" fill="#6a6a6a"/>
<rect x="959.6" y="460.4" width="1.3" height="112.8" fill="#6a6a6a"/>
<rect x="961" y="492.4" width="3.6" height="1" fill="#808080"/>
<text transform="translate(993.4 496) scale(0.93 1)" font-size="9.78" fill="#808080" text-anchor="end" class="ar">45000</text>
<rect x="961" y="518.9" width="3.6" height="1" fill="#808080"/>
<text transform="translate(993.4 522.5) scale(0.93 1)" font-size="9.78" fill="#808080" text-anchor="end" class="ar">30000</text>
<rect x="961" y="544.85" width="3.6" height="1" fill="#808080"/>
<text transform="translate(993.4 548.45) scale(0.93 1)" font-size="9.78" fill="#808080" text-anchor="end" class="ar">15000</text>
<rect x="961" y="479.3" width="1.6" height="1" fill="#808080"/>
<rect x="961" y="505.6" width="1.6" height="1" fill="#808080"/>
<rect x="961" y="531.9" width="1.6" height="1" fill="#808080"/>
<rect x="961" y="558" width="1.6" height="1" fill="#808080"/>
<rect x="961" y="562" width="21.6" height="10" fill="#fff" stroke="#9a9a9a" stroke-width="0.9"/>
<text transform="translate(962.2 570.6) scale(0.93 1)" font-size="9.46" fill="#909090" class="ar">X1万</text>
<rect x="116" y="574" width="1" height="10.6" fill="#a0a0a0"/>
<text transform="translate(116.9 582.7) scale(0.93 1)" font-size="9.78" fill="#808080" class="ar">5</text>
<rect x="328.4" y="574" width="1" height="10.6" fill="#a0a0a0"/>
<text transform="translate(329.3 582.7) scale(0.93 1)" font-size="9.78" fill="#808080" class="ar">6</text>
<rect x="563" y="574" width="1" height="10.6" fill="#a0a0a0"/>
<text transform="translate(563.9 582.7) scale(0.93 1)" font-size="9.78" fill="#808080" class="ar">7</text>
<rect x="796" y="574" width="1" height="10.6" fill="#a0a0a0"/>
<text transform="translate(796.9 582.7) scale(0.93 1)" font-size="9.78" fill="#808080" class="ar">8</text>
<rect x="62" y="574" width="1" height="1.4" fill="#909090"/>
<rect x="172" y="574" width="1" height="1.4" fill="#909090"/>
<rect x="227" y="574" width="1" height="1.4" fill="#909090"/>
<rect x="274.4" y="574" width="1" height="1.4" fill="#909090"/>
<rect x="386" y="574" width="1" height="1.4" fill="#909090"/>
<rect x="445" y="574" width="1" height="1.4" fill="#909090"/>
<rect x="503.4" y="574" width="1" height="1.4" fill="#909090"/>
<rect x="620" y="574" width="1" height="1.4" fill="#909090"/>
<rect x="679" y="574" width="1" height="1.4" fill="#909090"/>
<rect x="737" y="574" width="1" height="1.4" fill="#909090"/>
<rect x="854" y="574" width="1" height="1.4" fill="#909090"/>
<rect x="912" y="574" width="1" height="1.4" fill="#909090"/>
<text transform="translate(4.6 582.6) scale(0.93 1)" font-size="9.78" fill="#808080" class="ar">2022年</text>
<rect x="833" y="573.6" width="58" height="11" fill="#00ffff"/>
<text transform="translate(834 583.2) scale(0.93 1)" font-size="10" fill="#000" class="ar">2022/08/04/四</text>
</svg>
<div id="tb">
<svg width="18" height="15" style="position:absolute;left:0;top:0"><rect x="4" y="4.6" width="8.2" height="6.9" rx="1.2" fill="#fff" stroke="#4a4a4a" stroke-width="1.1"/><rect x="9" y="6" width="1.9" height="4.2" fill="#555"/></svg>
<i style="left:17px"></i>
<span style="left:21.2px;">分时</span>
<span style="left:45.6px;">1分钟</span>
<span style="left:75.2px;">5分钟</span>
<span style="left:104.4px;">10分钟</span>
<span style="left:139.2px;">30分钟</span>
<span style="left:173.4px;">60分钟</span>
<span style="left:208px;color:#ff0000;">日线</span>
<span style="left:233.6px;">周线</span>
<span style="left:259.2px;">月线</span>
<span style="left:284.8px;">45日线</span>
<span style="left:319px;">季线</span>
<span style="left:344.8px;">年线</span>
<span style="left:372.2px;">5秒</span>
<span style="left:395.2px;">15秒</span>
<span style="left:421px;">分钟*120</span>
<span style="left:463.4px;">多周期</span>
<span style="left:497.2px;">更多 &gt;</span>
<i style="left:761px"></i>
<b style="left:762px;width:24.6px">指标</b>
<i style="left:786.6px"></i>
<b style="left:787.6px;width:25.0px">叠加</b>
<i style="left:812.6px"></i>
<b style="left:813.6px;width:25.4px">多股</b>
<i style="left:839px"></i>
<b style="left:840px;width:25.7px">统计</b>
<i style="left:865.7px"></i>
<b style="left:866.7px;width:25.0px">画线</b>
<i style="left:891.7px"></i>
<b style="left:892.7px;width:25.0px">F10</b>
<i style="left:917.7px"></i>
<b style="left:918.7px;width:25.4px">标记</b>
<i style="left:944.1px"></i>
<b style="left:945.1px;width:24.6px">+自选</b>
<i style="left:969.7px"></i>
<b style="left:970.7px;width:26.3px">返回</b>
</div>
<div class="abs t9" style="left:2px;top:17.9px;color:#111">上证指数(日线 前复权)</div>
<svg width="10" height="10" style="position:absolute;left:95.4px;top:18.4px"><circle cx="5" cy="5" r="4.4" fill="#7a7a7a"/><path d="M2.7,4 L5,6.4 L7.3,4" fill="none" stroke="#fff" stroke-width="1.2"/></svg>
<div class="abs t9" style="left:108.4px;top:17.9px;color:#222">BOLL-M(20)</div>
<div class="abs t9" style="left:161.2px;top:17.9px;color:#2a2a96">BOLL: 3252.03</div>
<div class="abs t9" style="left:227px;top:17.9px;color:#ff00ff">UB: 3357.08</div>
<div class="abs t9" style="left:281.6px;top:17.9px;color:#8c8c8c">LB: 3146.97</div>
<svg width="10" height="10" style="position:absolute;left:1px;top:462.4px"><circle cx="5" cy="5" r="4.2" fill="#7a7a7a"/><path d="M2.8,4 L5,6.3 L7.2,4" fill="none" stroke="#fff" stroke-width="1.2"/></svg>
<div class="abs t9" style="left:12.6px;top:461.2px;color:#2a2a96">VOLUME: 303592288</div>
<div class="abs t9" style="left:105.4px;top:461.2px;color:#2a2a96">MA5: 289764192</div>
<div class="abs t9" style="left:177.6px;top:461.2px;color:#ff00ff">MA10: 282316320</div>
<div id="tabs">
<span style="left:0px;width:27.6px;border-left:none;">指标A</span>
<span style="left:27.6px;width:22.0px;">窗口</span>
<span style="left:49.6px;width:32.0px;">MACD</span>
<span style="left:81.6px;width:22.0px;">DMI</span>
<span style="left:103.6px;width:24.0px;">DMA</span>
<span style="left:127.6px;width:23.0px;">FSL</span>
<span style="left:150.6px;width:24.8px;">TRIX</span>
<span style="left:175.4px;width:32.0px;">BRAR</span>
<span style="left:207.4px;width:19.2px;">CR</span>
<span style="left:226.6px;width:17.8px;">VR</span>
<span style="left:244.4px;width:25.0px;">OBV</span>
<span style="left:269.4px;width:19.6px;">ASI</span>
<span style="left:289px;width:23.4px;">EMV</span>
<span style="left:312.4px;width:44.2px;">VOL-TDX</span>
<span style="left:356.6px;width:20.2px;">RSI</span>
<span style="left:376.8px;width:22.4px;">WR</span>
<span style="left:399.2px;width:23.0px;">SAR</span>
<span style="left:422.2px;width:23.4px;">KDJ</span>
<span style="left:445.6px;width:21.8px;">CCI</span>
<span style="left:467.4px;width:26.2px;">ROC</span>
<span style="left:493.6px;width:25.8px;">MTM</span>
<span style="left:519.4px;width:28.2px;">BOLL</span>
<span style="left:547.6px;width:23.2px;">PSY</span>
<span style="left:570.8px;width:31.2px;">MCST</span>
<span style="left:602px;width:22.4px;">更多</span>
<span style="left:624.4px;width:23.6px;color:#ff0000;">设置</span>
<span style="left:648px;width:1px"></span>
<span style="left:905.4px;width:27px;border-top:1px solid #a8a8a8;top:584.6px;height:12.4px">指标B</span>
<span style="left:932.4px;width:27px;border-top:1px solid #a8a8a8;top:584.6px;height:12.4px">模 板</span>
</div>
<div class="abs" style="left:960px;top:574px;width:37px;text-align:center;font-size:9.4px;line-height:11px;color:#111">日线</div>
<div class="abs" style="left:959.4px;top:585px;width:1px;height:12px;background:#a0a0a0"></div>
<div class="abs" style="left:978.8px;top:585px;width:1px;height:12px;background:#a0a0a0"></div>
<div class="abs" style="left:960px;top:585.6px;width:19px;text-align:center;font-size:10px;line-height:11px;color:#111">+</div>
<div class="abs" style="left:979px;top:585.6px;width:18px;text-align:center;font-size:10px;line-height:11px;color:#111">−</div>
<div id="rp">
<div class="abs" style="left:3.4px;top:5.2px;font-size:10.4px;line-height:12px;color:#ff2020">G</div>
<svg width="8" height="10" style="position:absolute;left:17px;top:6.4px"><rect x="0.6" y="0.8" width="5.4" height="0.9" fill="#9ad09a"/><rect x="0.6" y="3.5" width="5.4" height="0.9" fill="#9ad09a"/><rect x="0.6" y="6.2" width="5.4" height="0.9" fill="#30c030"/></svg>
<div class="abs" style="left:26.6px;top:4.8px;font-size:10.5px;line-height:13px;font-weight:bold;color:#111">999999</div>
<div class="abs wq" style="left:65px;top:3.8px;font-size:11.9px;line-height:14px;color:#111;transform:scaleY(1.1)">上证指数</div>
<div class="abs" style="left:180px;top:8.2px;font-size:7.2px;line-height:9px;font-weight:bold;color:#ff2020">SG</div>
<div class="abs" style="left:191.6px;top:7px;font-size:8.6px;line-height:10px;color:#111">2</div>
<div class="hr" style="top:21.4px"></div>
<div class="lab" style="top:23.3px">最新指数</div>
<div class="val r" style="top:23.6px">3277.88</div>
<div class="lab" style="top:37.5px">今日开盘</div>
<div class="val r" style="top:37.8px">3278.68</div>
<div class="lab" style="top:51.7px">昨日收盘</div>
<div class="val k" style="top:52.0px">3276.09</div>
<div class="lab" style="top:66.0px">指数涨跌</div>
<div class="val r" style="top:66.3px">1.79</div>
<div class="lab" style="top:80.2px">指数涨幅</div>
<div class="val r" style="top:80.5px">0.05%</div>
<div class="lab" style="top:94.4px">总成交额</div>
<div class="val o" style="top:94.7px">4092.10<span class="cj">亿</span></div>
<div class="lab" style="top:108.6px">总成交量</div>
<div class="val o" style="top:108.9px">30359.2<span class="cj">万</span></div>
<div class="lab" style="top:122.8px">指数量比</div>
<div class="val r" style="top:123.1px">1.08</div>
<div class="lab" style="top:137.1px">上证换手</div>
<div class="val k" style="top:137.4px">0.73%</div>
<div class="hr" style="top:151.2px"></div>
<div class="lab" style="top:152.9px"><i class="fa">A</i>股 涨停</div>
<div class="val r" style="top:153.2px">96</div>
<div class="bar" style="left:74.6px;top:156.1px;width:3.1px;background:#ff0000"></div>
<div class="lab" style="top:167.2px">涨幅 <b>&gt; 7%</b></div>
<div class="val r" style="top:167.5px">148</div>
<div class="bar" style="left:74.6px;top:170.3px;width:4.7px;background:#ff0000"></div>
<div class="lab" style="top:181.4px">涨幅 <b>5-7%</b></div>
<div class="val r" style="top:181.7px">114</div>
<div class="bar" style="left:74.6px;top:184.6px;width:3.6px;background:#ff0000"></div>
<div class="lab" style="top:195.7px">涨幅 <b>3-5%</b></div>
<div class="val r" style="top:196.0px">341</div>
<div class="bar" style="left:74.6px;top:198.8px;width:10.8px;background:#ff0000"></div>
<div class="lab" style="top:209.9px">涨幅 <b>0-3%</b></div>
<div class="val r" style="top:210.2px">2221</div>
<div class="bar" style="left:74.6px;top:213.1px;width:70.6px;background:#ff0000"></div>
<div class="hr" style="top:225.2px"></div>
<div class="lab" style="top:226.4px">跌幅 <b>0-3%</b></div>
<div class="val g" style="top:226.7px">1743</div>
<div class="bar" style="left:74.6px;top:229.6px;width:55.4px;background:#008000"></div>
<div class="lab" style="top:240.7px">跌幅 <b>3-5%</b></div>
<div class="val g" style="top:241.0px">93</div>
<div class="bar" style="left:74.6px;top:243.8px;width:3.0px;background:#008000"></div>
<div class="lab" style="top:254.9px">跌幅 <b>5-7%</b></div>
<div class="val g" style="top:255.2px">13</div>
<div class="bar" style="left:74.6px;top:258.1px;width:0.9px;background:#58b058"></div>
<div class="lab" style="top:269.1px">跌幅 <b>&gt; 7%</b></div>
<div class="val g" style="top:269.4px">8</div>
<div class="bar" style="left:74.6px;top:272.3px;width:0.9px;background:#58b058"></div>
<div class="lab" style="top:283.4px"><i class="fa">A</i>股 跌停</div>
<div class="val g" style="top:283.7px">1</div>
<div class="bar" style="left:74.6px;top:286.6px;width:0.9px;background:#58b058"></div>
<div class="hr" style="top:298.4px"></div>
<div class="lab" style="top:301.3px">净流入额</div>
<div class="bar" style="left:61.6px;top:304.6px;width:52px;height:5px;background:#008000"></div>
<div class="val g" style="top:301.4px;right:30px">-64.86<span class="cj">亿</span></div>
<div class="val g" style="top:301.4px;right:2px">-2%</div>
<div class="lab" style="top:314.6px">大宗流入</div>
<div class="bar" style="left:61.6px;top:319px;width:12.4px;height:4.6px;background:#ff0000"></div>
<div class="val r" style="top:314.9px;right:30px">15.87<span class="cj">亿</span></div>
<div class="val r" style="top:314.9px;right:2px">0%</div>
<div class="hr" style="top:330.2px;height:1.8px"></div>
<div class="tk" style="top:332.45px"><span class="k" style="left:1.6px">14:56</span><span class="r" style="right:86.8px">3277.79</span><span class="o" style="right:3.2px">1.28<em class="cj">亿</em></span></div>
<div class="tk" style="top:345.91px"><span class="k" style="left:1.6px">14:56</span><span class="r" style="right:86.8px">3277.62</span><span class="o" style="right:3.2px">1.17<em class="cj">亿</em></span></div>
<div class="tk" style="top:359.37px"><span class="k" style="left:1.6px">14:56</span><span class="r" style="right:86.8px">3278.06</span><span class="o" style="right:3.2px">1.26<em class="cj">亿</em></span></div>
<div class="tk" style="top:372.83px"><span class="k" style="left:1.6px">14:56</span><span class="r" style="right:86.8px">3278.12</span><span class="o" style="right:3.2px">1.28<em class="cj">亿</em></span></div>
<div class="tk" style="top:386.29px"><span class="k" style="left:1.6px">14:56</span><span class="r" style="right:86.8px">3278.01</span><span class="o" style="right:3.2px">1.40<em class="cj">亿</em></span></div>
<div class="tk" style="top:399.75px"><span class="k" style="left:1.6px">14:56</span><span class="r" style="right:86.8px">3278.10</span><span class="o" style="right:3.2px">1.25<em class="cj">亿</em></span></div>
<div class="tk" style="top:413.21px"><span class="k" style="left:1.6px">14:56</span><span class="r" style="right:86.8px">3277.67</span><span class="o" style="right:3.2px">1.38<em class="cj">亿</em></span></div>
<div class="tk" style="top:426.67px"><span class="k" style="left:1.6px">14:56</span><span class="r" style="right:86.8px">3277.76</span><span class="o" style="right:3.2px">1.61<em class="cj">亿</em></span></div>
<div class="tk" style="top:440.13px"><span class="k" style="left:1.6px">14:56</span><span class="r" style="right:86.8px">3278.04</span><span class="o" style="right:3.2px">1.35<em class="cj">亿</em></span></div>
<div class="tk" style="top:453.59px"><span class="k" style="left:1.6px">14:56</span><span class="r" style="right:86.8px">3278.13</span><span class="o" style="right:3.2px">1.16<em class="cj">亿</em></span></div>
<div class="tk" style="top:467.05px"><span class="k" style="left:1.6px">14:56</span><span class="r" style="right:86.8px">3278.28</span><span class="o" style="right:3.2px">1.17<em class="cj">亿</em></span></div>
<div class="tk" style="top:480.51px"><span class="k" style="left:1.6px">14:56</span><span class="r" style="right:86.8px">3277.94</span><span class="o" style="right:3.2px">1.27<em class="cj">亿</em></span></div>
<div class="tk" style="top:493.97px"><span class="k" style="left:1.6px">14:56</span><span class="r" style="right:86.8px">3278.34</span><span class="o" style="right:3.2px">1.15<em class="cj">亿</em></span></div>
<div class="tk" style="top:507.43px"><span class="k" style="left:1.6px">14:56</span><span class="r" style="right:86.8px">3277.88</span><span class="o" style="right:3.2px">1.14<em class="cj">亿</em></span></div>
<div class="tk" style="top:520.89px"><span class="k" style="left:1.6px">14:56</span><span class="r" style="right:86.8px">3277.85</span><span class="o" style="right:3.2px">1.25<em class="cj">亿</em></span></div>
<div class="tk" style="top:534.35px"><span class="k" style="left:1.6px">14:57</span><span class="r" style="right:86.8px">3277.97</span><span class="o" style="right:3.2px">9973<em class="cj">万</em></span></div>
<div class="tk" style="top:547.81px"><span class="k" style="left:1.6px">14:57</span><span class="r" style="right:86.8px">3278.15</span><span class="o" style="right:3.2px">8548<em class="cj">万</em></span></div>
<div class="tk" style="top:561.27px"><span class="k" style="left:1.6px">15:00</span><span class="r" style="right:86.8px">3277.73</span><span class="o" style="right:3.2px">10.8<em class="cj">亿</em></span></div>
<div class="tk" style="top:574.73px"><span class="k" style="left:1.6px">15:00</span><span class="r" style="right:86.8px">3277.88</span><span class="o" style="right:3.2px">33.5<em class="cj">亿</em></span></div>
</div>
</div></body></html>
